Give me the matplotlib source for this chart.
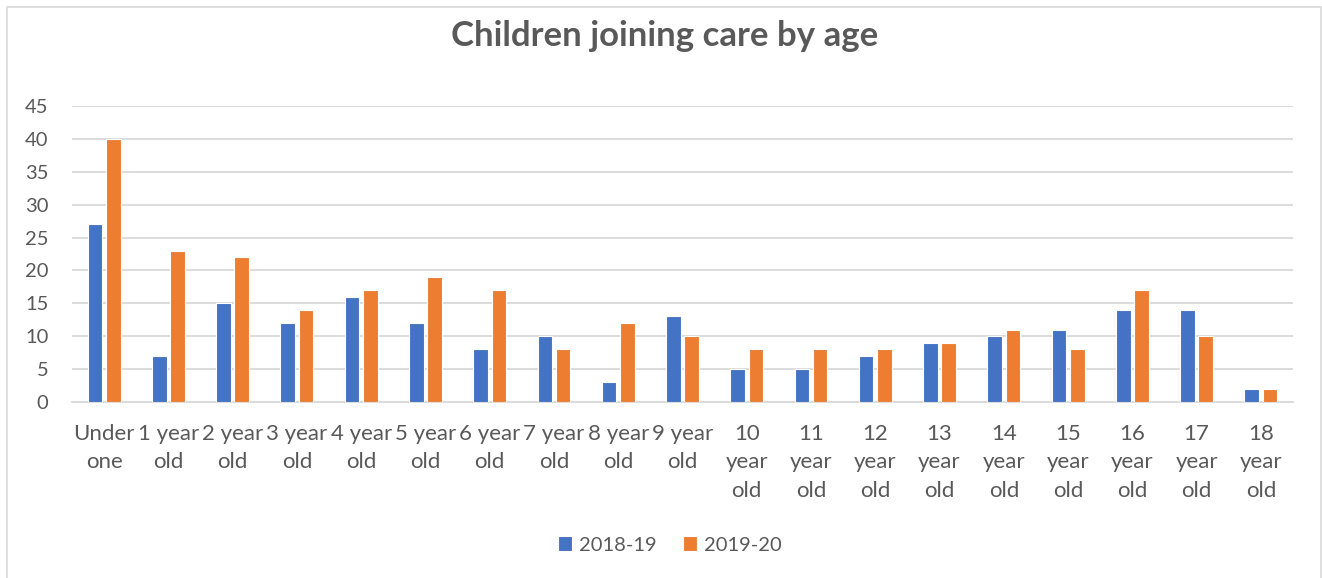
import matplotlib
matplotlib.use("Agg")
import matplotlib.pyplot as plt
from matplotlib.patches import Rectangle
import numpy as np

# Chart data
age_labels = ["Under\none", "1 year\nold", "2 year\nold", "3 year\nold", "4 year\nold",
              "5 year\nold", "6 year\nold", "7 year\nold", "8 year\nold", "9 year\nold",
              "10\nyear\nold", "11\nyear\nold", "12\nyear\nold", "13\nyear\nold",
              "14\nyear\nold", "15\nyear\nold", "16\nyear\nold", "17\nyear\nold",
              "18\nyear\nold"]
joined_2018_19 = [27, 7, 15, 12, 16, 12, 8, 10, 3, 13, 5, 5, 7, 9, 10, 11, 14, 14, 2]
joined_2019_20 = [40, 23, 22, 14, 17, 19, 17, 8, 12, 10, 8, 8, 8, 9, 11, 8, 17, 10, 2]
series_names = ["2018-19", "2019-20"]
y_ticks = [0, 5, 10, 15, 20, 25, 30, 35, 40, 45]

TEXT = "#595959"
GRID = "#D9D9D9"
BLUE = "#4472C4"
ORANGE = "#ED7D31"
FONT = ["Lato", "DejaVu Sans"]

W, H = 1322, 578
fig = plt.figure(figsize=(W / 100, H / 100), dpi=100)
fig.patch.set_facecolor("white")

ax = fig.add_axes([72 / W, 1 - 402 / H, (1293 - 72) / W, (402 - 106) / H])

x = np.arange(len(age_labels))
bw = 0.228
off = 0.142
b1 = ax.bar(x - off, joined_2018_19, width=bw, color=BLUE, edgecolor="white",
            linewidth=0.8, label=series_names[0], zorder=3)
b2 = ax.bar(x + off, joined_2019_20, width=bw, color=ORANGE, edgecolor="white",
            linewidth=0.8, label=series_names[1], zorder=3)

ax.set_xlim(-0.5, len(age_labels) - 0.5)
ax.set_ylim(0, 45)
ax.set_yticks(y_ticks)
ax.set_yticklabels([str(v) for v in y_ticks], fontsize=14.5, color=TEXT, family=FONT)
ax.set_xticks(x)
ax.set_xticklabels(age_labels, fontsize=16, color=TEXT, family=FONT,
                   linespacing=1.55, va="top")
ax.tick_params(axis="both", length=0)
ax.tick_params(axis="y", pad=17)
ax.tick_params(axis="x", pad=15.5)

ax.grid(axis="y", color=GRID, linewidth=1.3, zorder=0)
ax.set_axisbelow(True)
for side in ["top", "right", "left"]:
    ax.spines[side].set_visible(False)
ax.spines["bottom"].set_color(GRID)
ax.spines["bottom"].set_linewidth(1.3)
ax.spines["bottom"].set_zorder(1)

fig.text(665 / W, 1 - 36 / H, "Children joining care by age", ha="center", va="center",
         fontsize=25, fontweight="bold", color=TEXT, family=FONT)

leg = fig.legend(handles=[b1, b2], loc="center", bbox_to_anchor=(670 / W, 1 - 545 / H),
                 ncol=2, frameon=False, handlelength=0.7, handleheight=0.7,
                 handletextpad=0.35, columnspacing=1.3,
                 prop={"family": FONT, "size": 14.5})
for t in leg.get_texts():
    t.set_color(TEXT)

# Outer chart border
fig.patches.append(Rectangle((7 / W, -0.05), (1321 - 7) / W, 1.05 - 7 / H,
                             transform=fig.transFigure, fill=False,
                             edgecolor=GRID, linewidth=1.2))

fig.savefig("out.png", dpi=100)
